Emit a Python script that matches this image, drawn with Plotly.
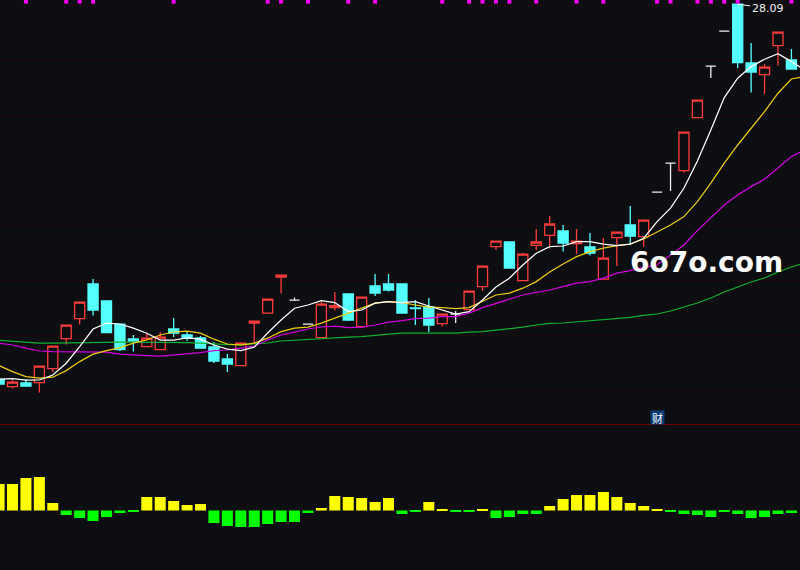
import plotly.graph_objects as go

# index, open, high, low, close  (prices); split by candle colour
up_idx = [1,3,4,5,6,11,12,18,19,20,21,24,25,27,33,35,36,37,39,40,41,43,45,46,48,51,52,57,58]
up_open = [8.97,9.17,9.87,11.37,12.37,10.97,10.82,10.02,12.14,12.64,14.44,11.42,12.92,11.97,12.12,12.82,13.97,15.97,14.27,16.03,16.53,16.12,14.34,16.42,16.47,19.77,22.42,24.57,26.02]
up_high = [9.30,9.99,10.99,12.04,13.19,11.60,11.70,11.14,12.24,13.34,14.54,13.20,13.70,13.44,12.59,13.74,14.99,16.24,15.65,16.85,17.50,16.85,16.40,16.69,17.34,21.69,23.29,25.10,26.69]
up_low = [8.87,8.67,9.70,11.07,12.07,10.97,10.82,10.02,11.10,12.64,13.62,11.42,12.77,11.97,11.97,12.82,13.75,15.80,14.27,15.80,15.88,15.60,14.34,15.00,15.97,19.67,22.42,23.60,25.02]
up_close = [9.19,9.99,10.99,12.04,13.19,11.39,11.44,11.14,12.24,13.34,14.54,13.09,13.02,13.44,12.59,13.74,14.99,16.24,15.59,16.20,17.10,16.24,15.39,16.69,17.29,21.69,23.29,24.94,26.69]

down_idx = [0,2,7,8,9,10,13,14,15,16,17,26,28,29,30,31,32,38,42,44,47,55,56,59]
down_open = [9.33,9.15,14.10,13.25,12.09,11.35,11.85,11.55,11.40,10.95,10.35,13.60,14.00,14.10,14.10,12.90,12.95,16.20,16.75,15.95,17.05,28.09,25.15,25.30]
down_high = [9.33,9.34,14.35,13.25,12.09,11.55,12.40,11.72,11.50,11.19,10.60,13.60,14.60,14.60,14.10,13.30,13.40,16.20,17.05,16.65,18.00,28.09,26.15,25.85]
down_low = [9.10,9.00,12.52,11.67,10.75,10.72,11.45,11.25,10.87,10.15,9.70,12.25,13.50,13.72,12.65,12.05,11.70,14.90,15.72,15.52,16.05,24.90,23.67,24.85]
down_close = [9.10,9.00,12.80,11.67,10.82,11.25,11.64,11.39,10.90,10.25,10.10,12.30,13.65,13.80,12.65,12.87,12.05,14.90,16.15,15.65,16.50,25.17,24.70,24.85]

flat_idx = [22,23,34,49,50,53,54]
flat_open = [13.29,12.09,12.60,18.69,20.14,24.99,26.74]
flat_high = [13.42,12.09,12.75,18.69,20.14,24.99,26.74]
flat_low = [13.25,12.09,12.15,18.69,18.75,24.40,26.74]
flat_close = [13.29,12.09,12.60,18.69,20.14,24.99,26.74]

ma_white = [9.34,9.37,9.29,9.30,9.55,10.14,10.97,11.85,12.14,12.10,11.89,11.64,11.30,11.30,11.40,11.34,11.05,10.84,10.77,10.94,11.65,12.30,12.89,13.05,13.27,13.17,12.72,12.80,13.14,13.22,13.17,13.22,13.00,12.80,12.59,12.72,13.30,13.95,14.39,15.05,15.64,15.97,16.00,16.22,16.22,16.09,16.02,16.09,16.39,17.22,17.89,18.90,20.25,21.80,23.42,24.39,24.97,25.34,25.62,25.22,24.80]
ma_yellow = [10.02,9.72,9.47,9.39,9.44,9.77,10.22,10.59,10.77,10.92,11.14,11.30,11.55,11.70,11.74,11.64,11.34,11.10,11.05,11.14,11.39,11.72,11.89,11.94,12.14,12.39,12.64,12.89,13.14,13.22,13.17,13.05,12.94,12.92,12.87,12.92,13.22,13.55,13.64,13.89,14.22,14.70,15.10,15.47,15.72,15.89,16.02,16.10,16.35,16.69,17.05,17.47,18.22,19.14,20.14,21.05,21.89,22.72,23.64,24.35,24.48]
ma_purple = [11.14,11.05,10.89,10.75,10.72,10.72,10.72,10.72,10.69,10.59,10.54,10.52,10.49,10.54,10.59,10.67,10.77,10.80,10.89,11.00,11.30,11.55,11.69,11.85,11.95,11.99,11.92,11.94,12.05,12.19,12.27,12.37,12.39,12.47,12.47,12.64,12.92,13.14,13.34,13.55,13.68,13.80,13.97,14.14,14.22,14.39,14.64,14.77,14.94,15.05,15.55,16.05,16.77,17.39,18.05,18.55,18.97,19.34,19.89,20.47,20.80]
ma_green = [11.29,11.24,11.19,11.14,11.14,11.15,11.19,11.19,11.19,11.19,11.19,11.19,11.17,11.17,11.17,11.14,11.10,11.07,11.07,11.10,11.15,11.25,11.29,11.34,11.39,11.42,11.44,11.47,11.54,11.59,11.64,11.64,11.64,11.64,11.64,11.69,11.72,11.79,11.85,11.94,12.05,12.13,12.15,12.20,12.25,12.30,12.35,12.43,12.53,12.60,12.75,12.95,13.15,13.40,13.70,13.95,14.20,14.40,14.70,14.95,15.15]

osc_values = [0.265,0.265,0.325,0.335,0.075,-0.045,-0.075,-0.105,-0.065,-0.025,-0.01,0.135,0.135,0.095,0.055,0.065,-0.125,-0.155,-0.165,-0.165,-0.135,-0.115,-0.115,-0.025,0.025,0.145,0.135,0.125,0.085,0.125,-0.035,-0.01,0.085,0.015,-0.01,-0.01,0.015,-0.075,-0.065,-0.035,-0.035,0.045,0.115,0.155,0.155,0.185,0.135,0.075,0.045,0.015,-0.015,-0.035,-0.045,-0.065,-0.015,-0.035,-0.075,-0.065,-0.035,-0.025]

flag_idx = [2,5,6,7,13,20,21,23,26,28,33,35,36,37,38,40,43,45,49,50,52,53,54,55,59]
flag_level = 28.22
grid_levels = [28.03,25.28,22.53,19.78,17.03,14.28,11.53,8.78]
high_label = "28.09"
high_idx = 55
high_price = 28.09
note_idx = 49
note_level = 7.45
watermark = "6o7o.com"

BG = "#0d0e11"
RED = "#ff3c3c"
CYAN = "#54ffff"
fig = go.Figure()

def candles(idx, o, h, l, c, colour, fill):
    fig.add_trace(go.Candlestick(
        x=idx, open=o, high=h, low=l, close=c, whiskerwidth=0, showlegend=False,
        increasing=dict(line=dict(color=colour, width=1.3), fillcolor=fill),
        decreasing=dict(line=dict(color=colour, width=1.3), fillcolor=fill),
    ))

candles(up_idx, up_open, up_high, up_low, up_close, RED, BG)
candles(down_idx, down_open, down_high, down_low, down_close, CYAN, CYAN)
candles(flat_idx, flat_open, flat_high, flat_low, flat_close, "#f0f0f0", "#f0f0f0")

xs = list(range(len(ma_white)))
for vals, colour in [(ma_green, "#12b030"), (ma_purple, "#d000e0"), (ma_yellow, "#eccc14"), (ma_white, "#ffffff")]:
    fig.add_trace(go.Scatter(x=xs, y=vals, mode="lines", line=dict(color=colour, width=1.25), showlegend=False))

fig.add_trace(go.Scatter(x=flag_idx, y=[flag_level] * len(flag_idx), mode="markers",
                         marker=dict(symbol="square", size=4, color="#ff00ff", line=dict(width=0)), showlegend=False))

fig.add_trace(go.Bar(x=list(range(len(osc_values))), y=osc_values, yaxis="y2", width=0.82,
                     marker=dict(color=["#ffff00" if v > 0 else "#00ff00" for v in osc_values], line=dict(width=0)),
                     showlegend=False))

fig.add_annotation(x=high_idx, y=high_price, text=high_label, ax=30, ay=4, showarrow=True, arrowhead=0,
                   arrowcolor="#f0f0f0", arrowwidth=1, font=dict(family="DejaVu Sans", size=11, color="#eeeeee"))
fig.add_annotation(x=note_idx, y=note_level, text="财", showarrow=False, width=13, height=13, borderpad=0,
                   bgcolor="#0a3c78", font=dict(family="Noto Sans CJK SC", size=11, color="#ffffff"))
fig.add_annotation(xref="paper", yref="paper", x=0.8825, y=0.5395, xanchor="center", yanchor="middle",
                   text=watermark, showarrow=False,
                   font=dict(family="DejaVu Sans", size=28, color="#ffffff", weight="bold"))

fig.update_layout(
    width=800, height=570, margin=dict(l=0, r=0, t=0, b=0),
    paper_bgcolor=BG, plot_bgcolor=BG, boxgap=0.25, boxgroupgap=0, hovermode=False, font=dict(family="DejaVu Sans"),
    xaxis=dict(range=[0.069, 59.64], showgrid=False, zeroline=False, showticklabels=False, ticks="",
               rangeslider=dict(visible=False), anchor="y", showline=True, linecolor="#6e0000", linewidth=1),
    yaxis=dict(domain=[146 / 570, 1], range=[7.1, 28.3], tickvals=grid_levels, showticklabels=False, ticks="",
               gridcolor="#500606", griddash="1px,3px", gridwidth=1, zeroline=False),
    yaxis2=dict(domain=[0, 146 / 570], range=[-0.595, 0.865], showgrid=False, zeroline=False,
                showticklabels=False, ticks=""),
)

fig.write_html("out.html", config={"displayModeBar": False},
               post_script="document.body.style.margin='0';document.body.style.overflow='hidden';document.body.style.background='#0d0e11';")
